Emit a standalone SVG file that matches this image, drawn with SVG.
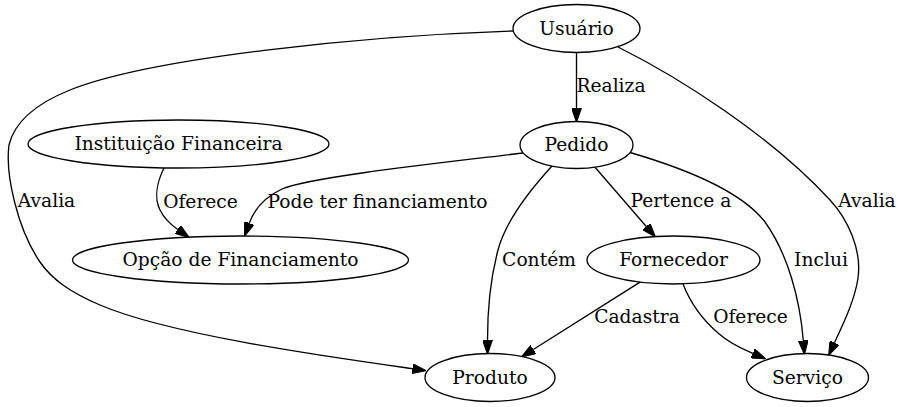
<svg xmlns="http://www.w3.org/2000/svg" width="902" height="407" viewBox="0 0 902 407">
<style>
text{font-family:"DejaVu Serif","Liberation Serif",serif;font-size:18.67px;fill:#000;text-anchor:middle}
.node ellipse{fill:none;stroke:#000;stroke-width:1.33}
.edges path{fill:none;stroke:#000;stroke-width:1.33}
</style>
<defs>
<marker id="arr" markerUnits="userSpaceOnUse" markerWidth="14" markerHeight="10" viewBox="0 0 13.33 9.33" refX="0" refY="4.67" orient="auto">
<polygon points="0,0 13.33,4.67 0,9.33" fill="#000" stroke="#000" stroke-width="1"/>
</marker>
</defs>
<rect width="902" height="407" fill="#fff"/>
<g id="edges" class="edges">
<path d="M576.5,52.5 L576.5,108.2" marker-end="url(#arr)"/>
<path d="M513,31 C360,36 150,58 70,90 C40,102 15,120 9,145 C5,175 18,230 40,262 C52,279.5 70,292 100,305 C170,335 330,357 412.4,368.7" marker-end="url(#arr)"/>
<path d="M618,47 C680,78 770,135 830,200 C848,219.5 862,250 858,278 C855,299 845,320 834.5,342.7" marker-end="url(#arr)"/>
<path d="M523,153 C440,163 310,177 282,189 C265,197 254,210 249.3,223.1" marker-end="url(#arr)"/>
<path d="M164,168 C157,182 154,198 160,210 C164,218 170,224 177.8,229.5" marker-end="url(#arr)"/>
<path d="M552,166 C530,190 506,220 498,250 C490,280 487.5,315 487.5,340.2" marker-end="url(#arr)"/>
<path d="M595,167.2 L646.3,226.5" marker-end="url(#arr)"/>
<path d="M630,152.5 C690,170 742,192 765,222 C788,254 800,300 803.3,340.5" marker-end="url(#arr)"/>
<path d="M640,282.1 L533.3,349.5" marker-end="url(#arr)"/>
<path d="M683,284 C690,302 703,320 718,333 C728,342 740,348 752.8,353.4" marker-end="url(#arr)"/>
<text x="611" y="92">Realiza</text>
<text x="46.5" y="207">Avalia</text>
<text x="867" y="207">Avalia</text>
<text x="377.5" y="208">Pode ter financiamento</text>
<text x="200.5" y="208">Oferece</text>
<text x="539" y="266">Contém</text>
<text x="681" y="207">Pertence a</text>
<text x="821" y="266">Inclui</text>
<text x="637" y="323">Cadastra</text>
<text x="750.5" y="323">Oferece</text>
</g>
<g id="usuario" class="node"><ellipse cx="576.5" cy="28.5" rx="63.5" ry="24"/><text x="576.5" y="34.5">Usuário</text></g>
<g id="pedido" class="node"><ellipse cx="576.5" cy="145" rx="56.5" ry="23.5"/><text x="576.5" y="151">Pedido</text></g>
<g id="instituicao" class="node"><ellipse cx="178.5" cy="144" rx="150.5" ry="24"/><text x="178.5" y="150">Instituição Financeira</text></g>
<g id="opcao" class="node"><ellipse cx="240.5" cy="260" rx="168" ry="24"/><text x="240.5" y="266">Opção de Financiamento</text></g>
<g id="fornecedor" class="node"><ellipse cx="673.5" cy="260" rx="86.5" ry="24"/><text x="673.5" y="266">Fornecedor</text></g>
<g id="produto" class="node"><ellipse cx="490" cy="377.5" rx="65" ry="24"/><text x="490" y="383.5">Produto</text></g>
<g id="servico" class="node"><ellipse cx="807.5" cy="377.5" rx="61" ry="24"/><text x="807.5" y="383.5">Serviço</text></g>
</svg>
